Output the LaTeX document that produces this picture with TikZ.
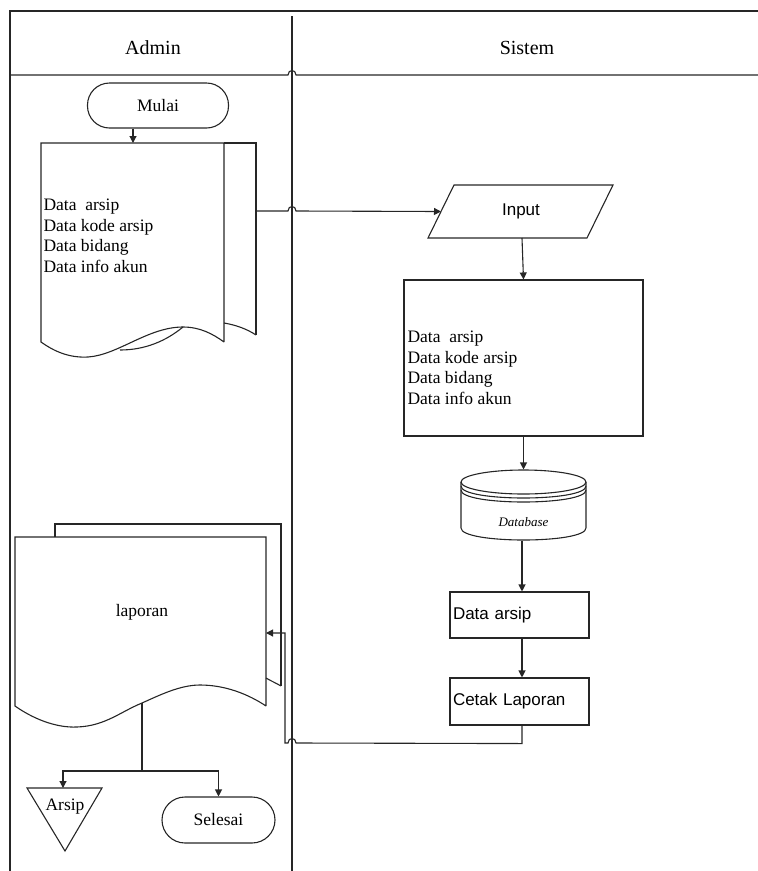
\documentclass[tikz,border=0pt]{standalone}
\usepackage{fontspec}
\setmainfont{Liberation Serif}
\newfontfamily\arialfont{Liberation Sans}
\usetikzlibrary{arrows.meta}
\begin{document}
\begin{tikzpicture}[x=1pt,y=-1pt, line width=1.1pt, black!85,
  arr/.style={-{Triangle[length=7pt,width=7pt]}},
  box/.style={draw, rectangle, inner sep=0pt},
  hdr/.style={inner sep=0pt, text=black, font=\fontsize{20}{24}\selectfont},
  serif/.style={inner sep=0pt, text=black, font=\fontsize{17.5}{20.5}\selectfont},
  sans/.style={text=black, font=\arialfont\fontsize{17}{20}\selectfont},
  dbtxt/.style={inner sep=0pt, text=black, font=\itshape\fontsize{13}{15}\selectfont}]
\useasboundingbox (0,0) rectangle (758,871);
% swimlane frame
\draw (10,871) -- (10,11) -- (758,11);
\draw (292,16) -- (292,871);
\draw (10,75) -- (288,75) .. controls (288,69) and (296,69) .. (296,75) -- (758,75);
\node[hdr] (admin) at (153,48) {Admin};
\node[hdr] (sistem) at (527,48) {Sistem};

% Mulai
\node[draw, rounded corners=22pt, minimum width=141pt, minimum height=45pt, serif] (mulai) at (158,105.5) {Mulai};

% document 1 (multi-page)
\draw (224,143) -- (256,143) -- (256,335);
\draw (224,323) .. controls (236,325) and (247,329) .. (256,335);
\draw (224,342) -- (224,143) -- (41,143) -- (41,342)
  .. controls (55,352) and (70,358) .. (88,357)
  .. controls (118,355) and (148,327) .. (183,327)
  .. controls (200,327) and (213,334) .. (224,342);
\draw (120,350) .. controls (145,350) and (166,341) .. (183,327);
\node[serif, anchor=west, align=left] (doc1) at (43,236) {Data\ \ arsip\\Data kode arsip\\Data bidang\\Data info akun};
\coordinate (doc1top) at (133,143);
\coordinate (doc1out) at (256,211);

% Input parallelogram
\draw (454,185) -- (613,185) -- (587,238) -- (428,238) -- cycle;
\node[sans, inner sep=0pt] (input) at (521,211.5) {Input};
\coordinate (inW) at (441,211.5);
\coordinate (inS) at (522,238);

% data rectangle
\node[box, minimum width=239pt, minimum height=156pt] (rect1) at (523.5,358) {};
\node[serif, anchor=west, align=left] (rect1txt) at (407,368) {Data\ \ arsip\\Data kode arsip\\Data bidang\\Data info akun};

% database cylinder
\node[minimum width=125pt, minimum height=70pt, inner sep=0pt] (db) at (523.5,505) {};
\draw (523.5,482) ellipse [x radius=62.5pt, y radius=12pt];
\draw (461,486) .. controls (461,502) and (586,502) .. (586,486);
\draw (461,490) .. controls (461,506) and (586,506) .. (586,490);
\draw (461,482) -- (461,528) .. controls (461,544) and (586,544) .. (586,528) -- (586,482);
\node[dbtxt] (dblabel) at (523.5,522) {Database};

% Data arsip and Cetak Laporan
\node[box, sans, minimum width=139pt, minimum height=46pt, text width=133pt, inner xsep=3pt, align=left] (darsip) at (519.5,615) {Data arsip};
\node[box, sans, minimum width=139pt, minimum height=47pt, text width=133pt, inner xsep=3pt, align=left] (cetak) at (519.5,701.5) {Cetak Laporan};

% laporan document (multi-page)
\draw (55,537) -- (55,524) -- (281,524) -- (281,686);
\draw (266,678) .. controls (271,681) and (276,683) .. (281,686);
\draw (266,706) -- (266,537) -- (15,537) -- (15,706)
  .. controls (32,718) and (55,728) .. (77,727)
  .. controls (105,726) and (120,712) .. (142,703)
  .. controls (160,695) and (180,685) .. (200,685)
  .. controls (225,685) and (248,694) .. (266,706);
\node[serif] (laporan) at (142,612) {laporan};
\coordinate (lapin) at (266,633);
\coordinate (lapbot) at (142,703);

% Arsip (offline storage) and Selesai
\draw (27,788) -- (102,788) -- (65,851) -- cycle;
\node[serif] (arsip) at (65,807) {Arsip};
\coordinate (arsiptop) at (63,788);
\node[draw, rounded corners=23pt, minimum width=113pt, minimum height=46pt, serif] (selesai) at (218.5,820) {Selesai};

% connectors
\draw[arr] (mulai.south -| doc1top) -- (doc1top);
\draw[arr] (doc1out) -- (288,211) .. controls (288,205) and (296,205) .. (296,211) -- (inW);
\draw[arr] (inS) -- (rect1.north);
\draw[arr] (rect1.south) -- (db.north);
\draw[arr] ([xshift=-1.5pt]db.south) -- ([xshift=-1.5pt]db.south |- darsip.north);
\draw[arr] ([xshift=2.5pt]darsip.south) -- ([xshift=2.5pt]cetak.north);
\draw[arr] ([xshift=2.5pt]cetak.south) -- ++(0,18) coordinate (cbend) -- (296,743)
  .. controls (296,737) and (288,737) .. (288,743) -- (285,743) -- (285,633) -- (lapin);
\draw (lapbot) -- (142,771) coordinate (split);
\draw[arr] (split) -| (arsiptop);
\draw[arr] (split) -| (selesai.north);
\end{tikzpicture}
\end{document}
